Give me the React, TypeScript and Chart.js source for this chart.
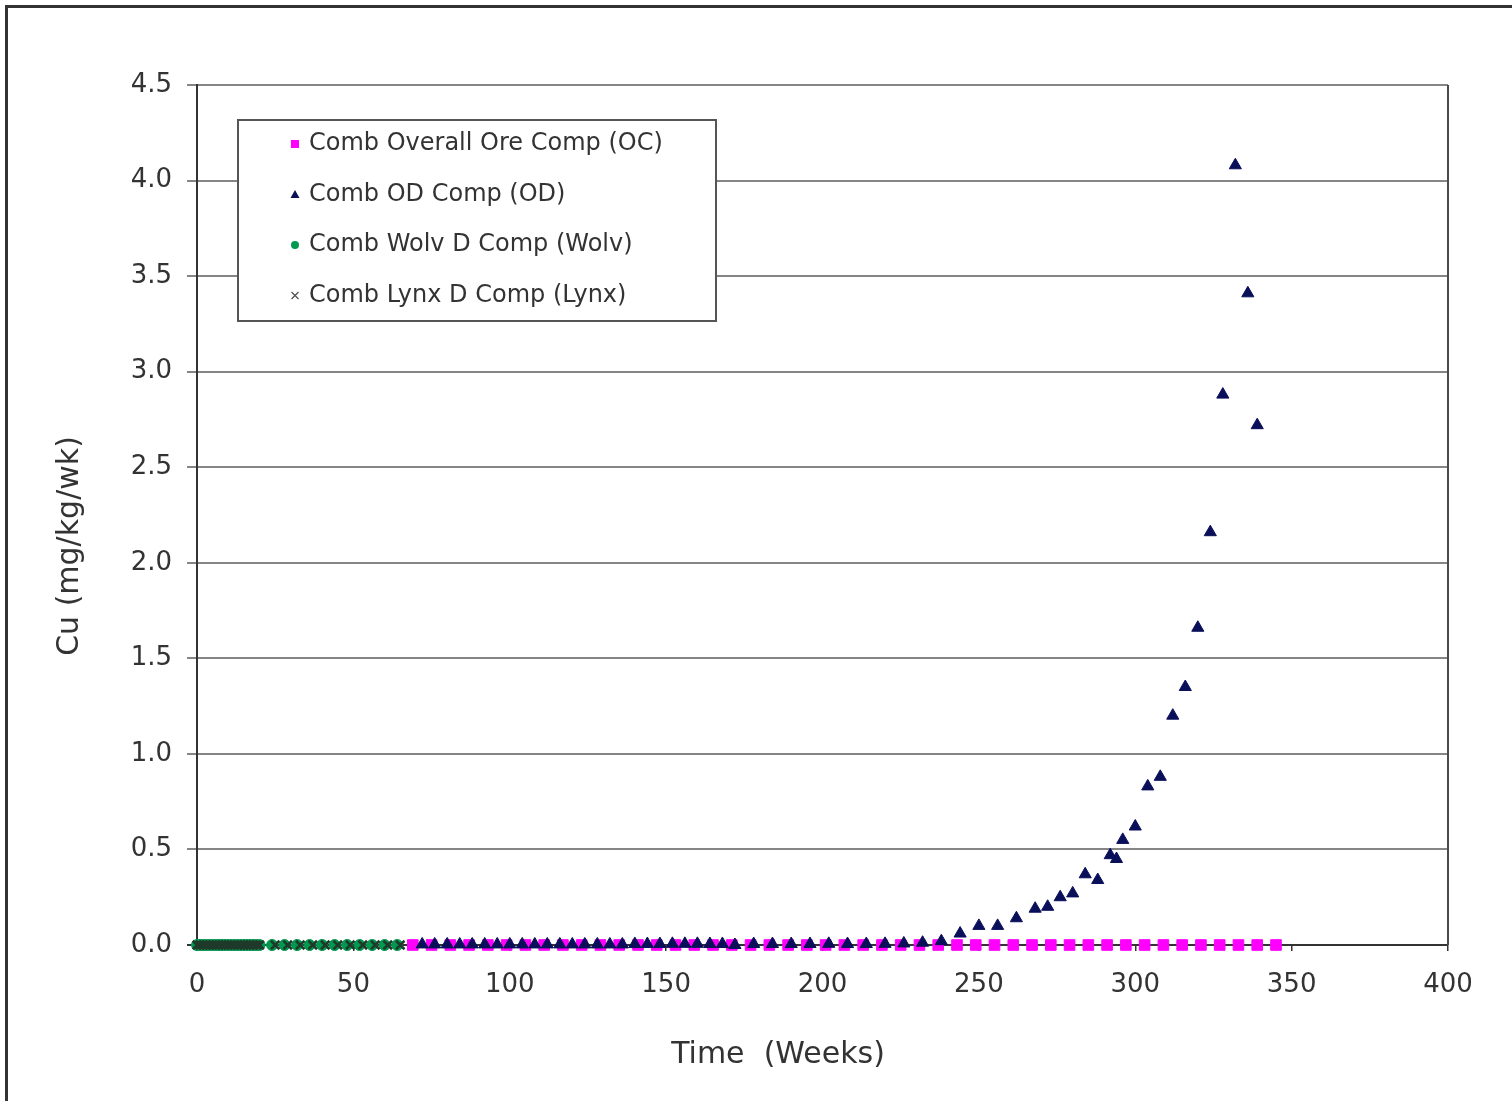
import React, { useEffect, useRef } from 'react';
import { Chart, registerables } from 'chart.js';

Chart.register(...registerables);

// ---- Data ----
const seriesNames = [
  'Comb Overall Ore Comp (OC)',
  'Comb OD Comp (OD)',
  'Comb Wolv D Comp (Wolv)',
  'Comb Lynx D Comp (Lynx)',
];

const ocWeeks = [69, 75, 81, 87, 93, 99, 105, 111, 117, 123, 129, 135, 141, 147, 153, 159, 165, 171, 177, 183, 189, 195, 201, 207, 213, 219, 225, 231, 237, 243, 249, 255, 261, 267, 273, 279, 285, 291, 297, 303, 309, 315, 321, 327, 333, 339, 345];
const ocValues = [0, 0, 0, 0, 0, 0, 0, 0, 0, 0, 0, 0, 0, 0, 0, 0, 0, 0, 0, 0, 0, 0, 0, 0, 0, 0, 0, 0, 0, 0, 0, 0, 0, 0, 0, 0, 0, 0, 0, 0, 0, 0, 0, 0, 0, 0, 0];

const odWeeks = [72, 76, 80, 84, 88, 92, 96, 100, 104, 108, 112, 116, 120, 124, 128, 132, 136, 140, 144, 148, 152, 156, 160, 164, 168, 172, 178, 184, 190, 196, 202, 208, 214, 220, 226, 232, 238, 244, 250, 256, 262, 268, 272, 276, 280, 284, 288, 292, 294, 296, 300, 304, 308, 312, 316, 320, 324, 328, 332, 336, 339];
const odValues = [0.003, 0.003, 0.003, 0.003, 0.003, 0.003, 0.003, 0.003, 0.003, 0.003, 0.003, 0.003, 0.003, 0.003, 0.003, 0.003, 0.003, 0.005, 0.005, 0.005, 0.006, 0.006, 0.006, 0.005, 0.005, 0.0, 0.005, 0.005, 0.005, 0.005, 0.006, 0.005, 0.005, 0.006, 0.008, 0.012, 0.02, 0.06, 0.10, 0.10, 0.14, 0.19, 0.20, 0.25, 0.27, 0.37, 0.34, 0.47, 0.45, 0.55, 0.62, 0.83, 0.88, 1.20, 1.35, 1.66, 2.16, 2.88, 4.08, 3.41, 2.72];

const wolvWeeks = [0, 1, 2, 3, 4, 5, 6, 7, 8, 9, 10, 11, 12, 13, 14, 15, 16, 17, 18, 19, 20, 24, 28, 32, 36, 40, 44, 48, 52, 56, 60, 64];
const wolvValues = [0, 0, 0, 0, 0, 0, 0, 0, 0, 0, 0, 0, 0, 0, 0, 0, 0, 0, 0, 0, 0, 0, 0, 0, 0, 0, 0, 0, 0, 0, 0, 0];

const lynxWeeks = [0, 1, 2, 3, 4, 5, 6, 7, 8, 9, 10, 11, 12, 13, 14, 15, 16, 17, 18, 19, 20, 25, 29, 33, 37, 41, 45, 49, 53, 57, 61, 65];
const lynxValues = [0, 0, 0, 0, 0, 0, 0, 0, 0, 0, 0, 0, 0, 0, 0, 0, 0, 0, 0, 0, 0, 0, 0, 0, 0, 0, 0, 0, 0, 0, 0, 0];

const xMin = 0;
const xMax = 400;
const xStep = 50;
const yMin = 0;
const yMax = 4.5;
const yStep = 0.5;

const xTitle = 'Time  (Weeks)';
const yTitle = 'Cu (mg/kg/wk)';

// ---- Styles ----
const FONT = '"DejaVu Sans", "Liberation Sans", Arial, sans-serif';
const TEXT = '#333333';
const OC_COLOR = '#ff00ff';
const OD_COLOR = '#0a0f5a';
const WOLV_COLOR = '#00994f';
const LYNX_COLOR = '#1f3a2a';

const toPoints = (xs: number[], ys: number[]) => xs.map((x, i) => ({ x, y: ys[i] }));

function drawMarker(ctx: CanvasRenderingContext2D, kind: string, x: number, y: number, color: string) {
  ctx.save();
  ctx.fillStyle = color;
  ctx.strokeStyle = color;
  ctx.beginPath();
  if (kind === 'rect') {
    ctx.rect(x - 4, y - 4, 8, 8);
    ctx.fill();
  } else if (kind === 'triangle') {
    ctx.moveTo(x, y - 4.5);
    ctx.lineTo(x + 4.5, y + 3.5);
    ctx.lineTo(x - 4.5, y + 3.5);
    ctx.closePath();
    ctx.fill();
  } else if (kind === 'circle') {
    ctx.arc(x, y, 4, 0, Math.PI * 2);
    ctx.fill();
  } else {
    ctx.lineWidth = 1.3;
    ctx.moveTo(x - 3.5, y - 3.5);
    ctx.lineTo(x + 3.5, y + 3.5);
    ctx.moveTo(x + 3.5, y - 3.5);
    ctx.lineTo(x - 3.5, y + 3.5);
    ctx.stroke();
  }
  ctx.restore();
}

const legendKinds = ['rect', 'triangle', 'circle', 'cross'];
const legendColors = [OC_COLOR, OD_COLOR, WOLV_COLOR, '#555555'];

const boxLegendPlugin = {
  id: 'boxLegend',
  afterDatasetsDraw(chart: any) {
    const { ctx, chartArea } = chart;
    const x0 = chartArea.left + 41;
    const y0 = chartArea.top + 35;
    const w = 478;
    const h = 201;
    ctx.save();
    ctx.fillStyle = '#ffffff';
    ctx.fillRect(x0, y0, w, h);
    ctx.strokeStyle = '#555555';
    ctx.lineWidth = 2;
    ctx.strokeRect(x0, y0, w, h);
    ctx.font = `24px ${FONT}`;
    ctx.fillStyle = TEXT;
    ctx.textBaseline = 'middle';
    ctx.textAlign = 'left';
    seriesNames.forEach((name, i) => {
      const ry = y0 + 24 + i * 50.5;
      drawMarker(ctx, legendKinds[i], x0 + 57, ry, legendColors[i]);
      ctx.fillStyle = TEXT;
      ctx.fillText(name, x0 + 71, ry);
    });
    ctx.restore();
  },
};

const plotBorderPlugin = {
  id: 'plotBorder',
  beforeDatasetsDraw(chart: any) {
    const { ctx, chartArea } = chart;
    ctx.save();
    ctx.strokeStyle = '#4a4a4a';
    ctx.lineWidth = 2;
    ctx.beginPath();
    ctx.moveTo(chartArea.right, chartArea.top);
    ctx.lineTo(chartArea.right, chartArea.bottom);
    ctx.stroke();
    ctx.restore();
  },
};

// Axis titles placed where the reference puts them (off-centre like the original)
const axisTitlesPlugin = {
  id: 'axisTitles',
  afterDraw(chart: any) {
    const { ctx, chartArea } = chart;
    ctx.save();
    ctx.fillStyle = TEXT;
    ctx.font = `30px ${FONT}`;
    ctx.textAlign = 'center';
    ctx.textBaseline = 'middle';
    ctx.fillText(xTitle, chartArea.left + 581, chartArea.bottom + 110);
    ctx.translate(chartArea.left - 127, chartArea.top + 461);
    ctx.rotate(-Math.PI / 2);
    ctx.fillText(yTitle, 0, 0);
    ctx.restore();
  },
};

export default function App() {
  const canvasRef = useRef<HTMLCanvasElement | null>(null);

  useEffect(() => {
    if (!canvasRef.current) return;
    const chart = new Chart(canvasRef.current, {
      type: 'scatter',
      data: {
        datasets: [
          {
            label: seriesNames[0],
            data: toPoints(ocWeeks, ocValues),
            pointStyle: 'rect',
            pointRadius: 7.5,
            pointBackgroundColor: OC_COLOR,
            pointBorderColor: OC_COLOR,
            pointBorderWidth: 1,
            clip: false,
            order: 4,
          },
          {
            label: seriesNames[1],
            data: toPoints(odWeeks, odValues),
            pointStyle: 'triangle',
            pointRadius: 7,
            pointBackgroundColor: OD_COLOR,
            pointBorderColor: OD_COLOR,
            pointBorderWidth: 1,
            clip: false,
            order: 3,
          },
          {
            label: seriesNames[2],
            data: toPoints(wolvWeeks, wolvValues),
            pointStyle: 'circle',
            pointRadius: 5.5,
            pointBackgroundColor: WOLV_COLOR,
            pointBorderColor: WOLV_COLOR,
            pointBorderWidth: 1,
            clip: false,
            order: 2,
          },
          {
            label: seriesNames[3],
            data: toPoints(lynxWeeks, lynxValues),
            pointStyle: 'crossRot',
            pointRadius: 6,
            pointBackgroundColor: LYNX_COLOR,
            pointBorderColor: LYNX_COLOR,
            pointBorderWidth: 2.5,
            clip: false,
            order: 1,
          },
        ],
      },
      options: {
        responsive: false,
        animation: false,
        events: [],
        layout: { padding: { left: 0, top: 85, right: 64, bottom: 0 } },
        plugins: {
          legend: { display: false },
          tooltip: { enabled: false },
        },
        scales: {
          x: {
            type: 'linear',
            min: xMin,
            max: xMax,
            afterFit: (scale: any) => {
              scale.height = 156;
            },
            ticks: {
              stepSize: xStep,
              color: TEXT,
              font: { family: FONT, size: 26 },
              padding: 19,
              maxRotation: 0,
            },
            grid: {
              drawOnChartArea: false,
              drawTicks: true,
              tickLength: 6,
              color: '#333333',
              lineWidth: 1.5,
            },
            border: { display: true, color: '#333333', width: 2 },
            title: { display: false },
          },
          y: {
            type: 'linear',
            min: yMin,
            max: yMax,
            afterFit: (scale: any) => {
              scale.width = 197;
            },
            ticks: {
              stepSize: yStep,
              color: TEXT,
              font: { family: FONT, size: 26 },
              padding: 15,
              callback: (v: any) => Number(v).toFixed(1),
            },
            grid: {
              drawTicks: true,
              tickLength: 10,
              color: (c: any) => (c.tick && c.tick.value === 0 ? '#333333' : '#858585'),
              lineWidth: 2,
            },
            border: { display: true, color: '#333333', width: 2 },
            title: { display: false },
          },
        },
      },
      plugins: [plotBorderPlugin, boxLegendPlugin, axisTitlesPlugin],
    } as any);
    return () => chart.destroy();
  }, []);

  return (
    <div style={{ position: 'absolute', left: 0, top: 0, width: 1512, height: 1101, overflow: 'hidden', background: '#ffffff' }}>
      <canvas ref={canvasRef} width={1512} height={1101} style={{ position: 'absolute', left: 0, top: 0, width: 1512, height: 1101 }} />
      <div
        style={{
          position: 'absolute',
          left: 5,
          top: 5,
          width: 1530,
          height: 1130,
          borderLeft: '3px solid #333333',
          borderTop: '3px solid #333333',
          pointerEvents: 'none',
        }}
      />
    </div>
  );
}
